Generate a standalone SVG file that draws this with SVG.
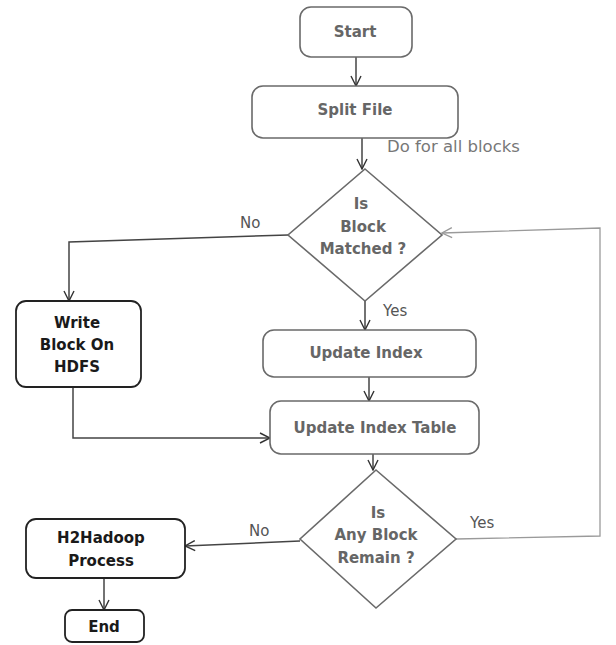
<svg xmlns="http://www.w3.org/2000/svg" width="616" height="645" viewBox="0 0 616 645">
<defs>
<marker id="arr" viewBox="0 0 12 12" refX="11" refY="6" markerWidth="12" markerHeight="12" markerUnits="userSpaceOnUse" orient="auto">
<path d="M1,1 L11,6 L1,11" fill="none" stroke="#333" stroke-width="1.4"/>
</marker>
<marker id="arrg" viewBox="0 0 12 12" refX="11" refY="6" markerWidth="12" markerHeight="12" markerUnits="userSpaceOnUse" orient="auto">
<path d="M1,1 L11,6 L1,11" fill="none" stroke="#999" stroke-width="1.3"/>
</marker>
</defs>
<style>
.g{fill:#fff;stroke:#6a6a6a;stroke-width:1.6}
.k{fill:#fff;stroke:#222;stroke-width:1.8}
.t{font-family:"DejaVu Sans",sans-serif;font-size:15px;font-weight:bold;text-anchor:middle}
.tg{fill:#666}
.tk{fill:#1a1a1a}
.lbl{font-family:"DejaVu Sans",sans-serif;font-size:15px;fill:#555}
.c{fill:none;stroke:#444;stroke-width:1.5}
.cf{fill:none;stroke:#9a9a9a;stroke-width:1.3}
</style>
<rect width="616" height="645" fill="#fff"/>
<g id="connectors">
<path class="c" d="M356,57 V86" marker-end="url(#arr)"/>
<path class="c" d="M362,138 V169" marker-end="url(#arr)"/>
<path class="c" d="M288,235 L69,242 V301" marker-end="url(#arr)"/>
<path class="c" d="M365,301 V330" marker-end="url(#arr)"/>
<path class="c" d="M369,377 V401" marker-end="url(#arr)"/>
<path class="c" d="M73,387 V438 H270" marker-end="url(#arr)"/>
<path class="c" d="M373,454 V470" marker-end="url(#arr)"/>
<path class="c" d="M300,541 L185,546" marker-end="url(#arr)"/>
<path class="c" d="M104,578 V610" marker-end="url(#arr)"/>
<path class="cf" d="M456,539 L600,536 V228 L442,233" marker-end="url(#arrg)"/>
</g>
<g id="start"><rect class="g" x="300" y="7" width="112" height="50" rx="11"/><text class="t tg" x="355" y="37">Start</text></g>
<g id="split"><rect class="g" x="252" y="86" width="206" height="52" rx="11"/><text class="t tg" x="355" y="115">Split File</text></g>
<text class="lbl" x="387" y="152" fill="#777" style="font-size:16.5px;fill:#777">Do for all blocks</text>
<g id="matched"><polygon class="g" points="365,169 442,235 365,301 288,235"/>
<text class="t tg" x="361" y="209">Is</text><text class="t tg" x="363" y="232">Block</text><text class="t tg" x="363" y="254">Matched ?</text></g>
<text class="lbl" x="240" y="228">No</text>
<text class="lbl" x="383" y="316">Yes</text>
<g id="write"><rect class="k" x="16" y="301" width="125" height="86" rx="10"/>
<text class="t tk" x="77" y="328">Write</text><text class="t tk" x="77" y="350">Block On</text><text class="t tk" x="77" y="372">HDFS</text></g>
<g id="updateindex"><rect class="g" x="263" y="330" width="213" height="47" rx="11"/><text class="t tg" x="366" y="358">Update Index</text></g>
<g id="updatetable"><rect class="g" x="270" y="401" width="209" height="53" rx="11"/><text class="t tg" x="375" y="433">Update Index Table</text></g>
<g id="remain"><polygon class="g" points="376,470 456,539 376,608 300,539"/>
<text class="t tg" x="378" y="518">Is</text><text class="t tg" x="376" y="540">Any Block</text><text class="t tg" x="376" y="563">Remain ?</text></g>
<text class="lbl" x="249" y="536">No</text>
<text class="lbl" x="470" y="528">Yes</text>
<g id="h2hadoop"><rect class="k" x="26" y="519" width="159" height="59" rx="10"/>
<text class="t tk" x="101" y="543">H2Hadoop</text><text class="t tk" x="101" y="566">Process</text></g>
<g id="end"><rect class="k" x="65" y="610" width="79" height="32" rx="7"/><text class="t tk" x="104" y="632">End</text></g>
</svg>
